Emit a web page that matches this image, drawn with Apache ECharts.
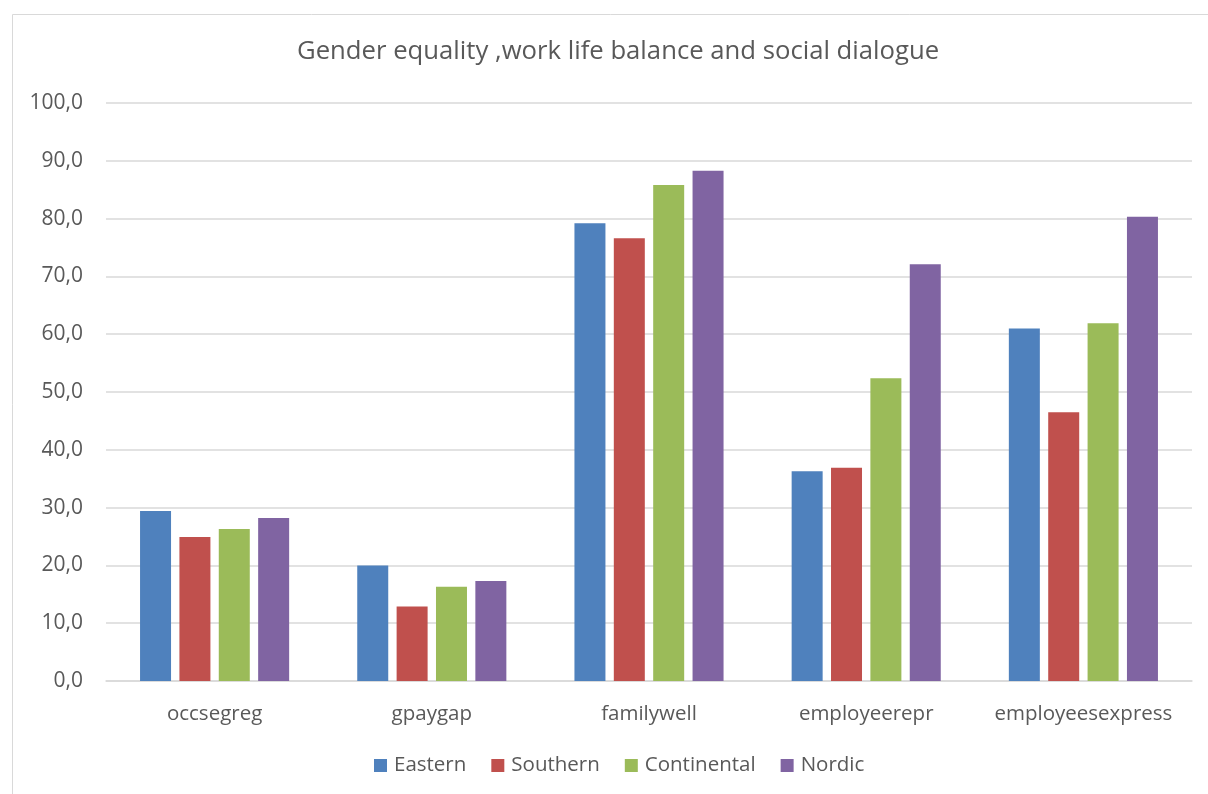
<!DOCTYPE html>
<html><head><meta charset="utf-8">
<script src="https://cdn.jsdelivr.net/npm/echarts@6/dist/echarts.min.js"></script>
<style>html,body{margin:0;padding:0;background:#fff}#c{width:1208px;height:794px}</style>
</head><body><div id="c"></div>
<script>
const categories = ['occsegreg', 'gpaygap', 'familywell', 'employeerepr', 'employeesexpress'];
const eastern = [29.4, 20.0, 79.2, 36.3, 61.0];
const southern = [24.9, 12.9, 76.6, 36.9, 46.5];
const continental = [26.3, 16.3, 85.8, 52.4, 61.9];
const nordic = [28.2, 17.3, 88.3, 72.1, 80.3];
const seriesNames = ['Eastern', 'Southern', 'Continental', 'Nordic'];
const colors = ['#4F81BD', '#C0504D', '#9BBB59', '#8064A2'];
const values = [eastern, southern, continental, nordic];

const FONT = '"Open Sans", sans-serif';
const chart = echarts.init(document.getElementById('c'));
chart.setOption({
  animation: false,
  textStyle: { fontFamily: FONT },
  title: {
    text: 'Gender equality ,work life balance and social dialogue',
    left: 292, top: 34,
    textStyle: { fontFamily: FONT, fontSize: 25.7, fontWeight: 'normal', color: '#595959' }
  },
  graphic: [{ type: 'rect', shape: { x: 12.5, y: 14.5, width: 1400, height: 1000 },
    style: { fill: 'none', stroke: '#d9d9d9', lineWidth: 1 }, silent: true, z: -1 }],
  legend: {
    data: seriesNames, bottom: 13, left: 369,
    itemWidth: 13, itemHeight: 13, itemGap: 25,
    icon: 'rect',
    textStyle: { fontFamily: FONT, fontSize: 20.5, color: '#595959', padding: [0, 0, 0, 2] }
  },
  grid: { left: 106, right: 16, top: 103, bottom: 113, containLabel: false },
  xAxis: {
    type: 'category', data: categories,
    axisLine: { lineStyle: { color: '#d9d9d9', width: 1.5 } },
    axisTick: { show: false },
    axisLabel: { fontFamily: FONT, fontSize: 20.5, color: '#595959', margin: 23, interval: 0 }
  },
  yAxis: {
    type: 'value', min: 0, max: 100, interval: 10,
    axisLine: { show: false }, axisTick: { show: false },
    splitLine: { lineStyle: { color: '#d9d9d9', width: 1.5 } },
    axisLabel: { fontFamily: FONT, fontSize: 21, color: '#595959', margin: 23,
      formatter: v => v.toFixed(1).replace('.', ',') }
  },
  series: seriesNames.map((n, i) => ({
    name: n, type: 'bar', data: values[i],
    barWidth: 31, barGap: '27%',
    itemStyle: { color: colors[i] }
  }))
});
</script></body></html>
